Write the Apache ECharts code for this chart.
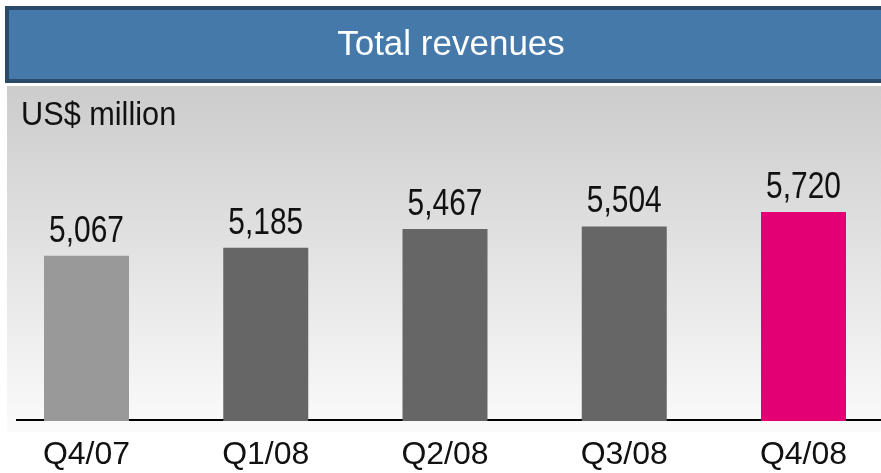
<!DOCTYPE html>
<html>
<head>
<meta charset="utf-8">
<script src="https://cdn.jsdelivr.net/npm/echarts@6/dist/echarts.min.js"></script>
<style>
html,body{margin:0;padding:0;background:#fff;}
#chart{width:881px;height:473px;}
</style>
</head>
<body>
<div id="chart"></div>
<script>
const categories = ['Q4/07', 'Q1/08', 'Q2/08', 'Q3/08', 'Q4/08'];
const revenues = [5067, 5185, 5467, 5504, 5720];
const barColors = ['#999999', '#666666', '#666666', '#666666', '#E20074'];
const titleText = 'Total revenues';
const unitText = 'US$ million';

const sans = '"Liberation Sans", Arial, Helvetica, sans-serif';
const fmt = v => Number(v).toLocaleString('en-US');

const chart = echarts.init(document.getElementById('chart'));
chart.setOption({
  animation: false,
  graphic: [
    { type: 'rect', z: -10, silent: true,
      shape: { x: 7, y: 86, width: 880, height: 346 },
      style: { fill: new echarts.graphic.LinearGradient(0, 0, 0, 1, [
        { offset: 0, color: '#cccccc' },
        { offset: 1, color: '#fbfbfb' }
      ]) } },
    { type: 'rect', z: -10, silent: true,
      shape: { x: 7, y: 8, width: 900, height: 73 },
      style: { fill: '#4579aa', stroke: '#2b4a69', lineWidth: 4 } },
    { type: 'text', z: 5, silent: true,
      x: 451, y: 45,
      style: { text: titleText, fill: '#ffffff', font: '35px ' + sans, align: 'center', verticalAlign: 'middle' } },
    { type: 'line', z: 0, silent: true,
      shape: { x1: 16, y1: 420, x2: 881, y2: 420 },
      style: { stroke: '#000000', lineWidth: 2 } },
    { type: 'text', z: 5, silent: true,
      x: 21, y: 116, scaleX: 0.93,
      style: { text: unitText, fill: '#111111', font: '33px ' + sans, align: 'left', verticalAlign: 'middle' } }
  ],
  grid: { left: 86.5, right: 77.5, top: 86, bottom: 52, containLabel: false },
  xAxis: {
    type: 'category',
    data: categories,
    boundaryGap: false,
    axisLine: { show: false },
    axisTick: { show: false },
    axisLabel: { margin: 18, color: '#111111', fontSize: 32, fontFamily: sans }
  },
  yAxis: {
    type: 'value',
    min: 2600,
    max: 7600,
    show: false,
    splitLine: { show: false }
  },
  series: [{
    type: 'bar',
    z: 3,
    barWidth: 85,
    data: revenues.map((v, i) => ({ value: v, itemStyle: { color: barColors[i] } }))
  }, {
    type: 'custom',
    z: 4,
    silent: true,
    data: revenues.map((v, i) => [i, v]),
    renderItem: (params, api) => {
      const p = api.coord([api.value(0), api.value(1)]);
      return {
        type: 'text',
        x: p[0],
        y: p[1] - 24,
        scaleX: 0.83,
        style: { text: fmt(api.value(1)), fill: '#111111', font: '36px ' + sans, align: 'center', verticalAlign: 'middle' }
      };
    }
  }]
});
</script>
</body>
</html>
